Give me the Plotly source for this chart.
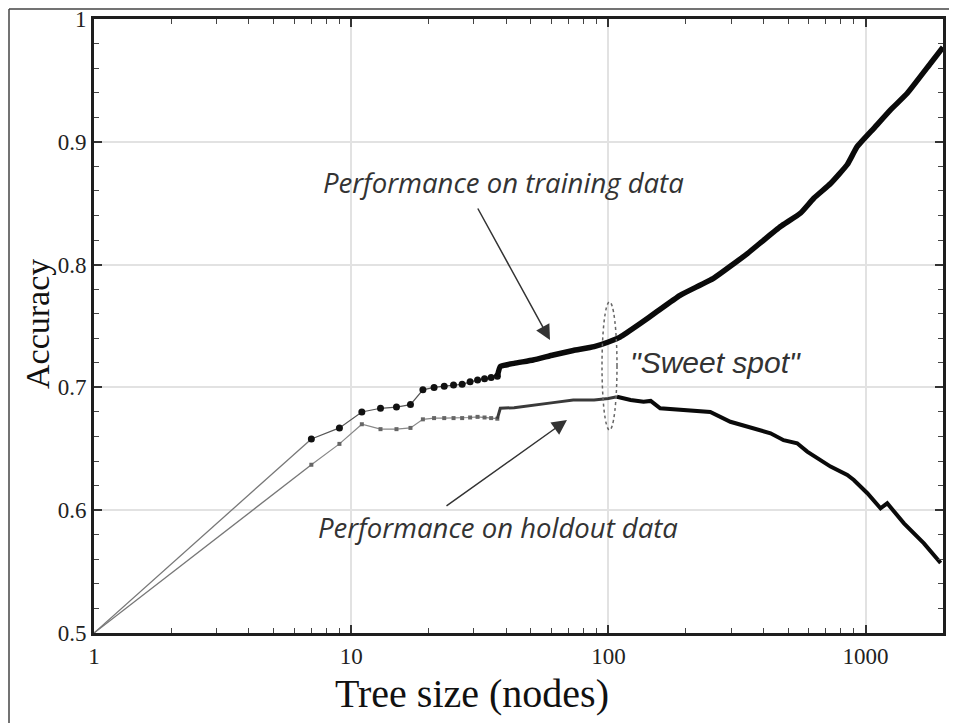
import plotly.graph_objects as go

# ---- data ----
train_small_x = [1, 7, 9, 11, 13, 15, 17, 19, 21, 23, 25, 27, 29, 31, 33, 35, 37]
train_small_y = [0.5, 0.658, 0.667, 0.680, 0.683, 0.684, 0.686, 0.698, 0.700, 0.701,
                 0.702, 0.7025, 0.7045, 0.706, 0.707, 0.708, 0.709]
train_big_x = [38, 43, 51, 61, 73, 88, 100, 111, 133, 155, 190, 257, 347, 402, 467,
               559, 629, 731, 849, 927, 1077, 1250, 1452, 1790, 2000]
train_big_y = [0.717, 0.7196, 0.7223, 0.7264, 0.730, 0.7332, 0.737, 0.741, 0.752, 0.762,
               0.775, 0.789, 0.809, 0.820, 0.831, 0.842, 0.854, 0.866, 0.8815, 0.896,
               0.911, 0.926, 0.9395, 0.964, 0.977]

hold_small_x = [1, 7, 9, 11, 13, 15, 17, 19, 21, 23, 25, 27, 29, 31, 33, 35, 37]
hold_small_y = [0.5, 0.637, 0.654, 0.670, 0.666, 0.666, 0.667, 0.674, 0.675, 0.675,
                0.675, 0.675, 0.6755, 0.676, 0.6755, 0.675, 0.6745]
hold_mid_x = [38, 43, 51, 61, 73, 88, 100, 108]
hold_mid_y = [0.683, 0.6835, 0.6857, 0.6876, 0.6897, 0.6897, 0.691, 0.6924]
hold_big_x = [108, 122, 137, 146, 159, 190, 249, 298, 427, 480, 542, 593, 731, 849,
              900, 1016, 1077, 1143, 1214, 1410, 1686, 1958]
hold_big_y = [0.6924, 0.6897, 0.6884, 0.689, 0.683, 0.6816, 0.680, 0.672, 0.6626,
              0.657, 0.6545, 0.6477, 0.6355, 0.6287, 0.6246, 0.6138, 0.608, 0.6016,
              0.6056, 0.5893, 0.573, 0.557]

x_tickvals = [1, 10, 100, 1000]
x_ticktext = ["1", "10", "100", "1000"]
y_tickvals = [0.5, 0.6, 0.7, 0.8, 0.9, 1.0]
y_ticktext = ["0.5", "0.6", "0.7", "0.8", "0.9", "1"]

fig = go.Figure()

# training
fig.add_trace(go.Scatter(x=train_small_x[:2], y=train_small_y[:2], mode="lines",
                         line=dict(color="#777", width=1.3), hoverinfo="skip"))
fig.add_trace(go.Scatter(x=train_small_x[1:], y=train_small_y[1:], mode="lines+markers",
                         line=dict(color="#555", width=1.2),
                         marker=dict(color="#111", size=7, symbol="circle")))
fig.add_trace(go.Scatter(x=[train_small_x[-1]] + train_big_x, y=[train_small_y[-1]] + train_big_y,
                         mode="lines", line=dict(color="#0a0a0a", width=5.5, shape="spline",
                                                 smoothing=0.4)))

# holdout
fig.add_trace(go.Scatter(x=hold_small_x[:2], y=hold_small_y[:2], mode="lines",
                         line=dict(color="#777", width=1.3), hoverinfo="skip"))
fig.add_trace(go.Scatter(x=hold_small_x[1:], y=hold_small_y[1:], mode="lines+markers",
                         line=dict(color="#888", width=1.2),
                         marker=dict(color="#666", size=4, symbol="square")))
fig.add_trace(go.Scatter(x=[hold_small_x[-1]] + hold_mid_x, y=[hold_small_y[-1]] + hold_mid_y,
                         mode="lines", line=dict(color="#3a3a3a", width=3)))
fig.add_trace(go.Scatter(x=hold_big_x, y=hold_big_y,
                         mode="lines", line=dict(color="#0a0a0a", width=4)))

OFF = 8  # default body margin of the html page
W, H = 957 - 2 * OFF, 723 - OFF
L, T = 94 - OFF, 19 - OFF
R = W - L - 849
B = H - T - 614
pw, ph = W - L - R, H - T - B


def px(page_x):
    return (page_x - OFF - L) / pw


def py(page_y):
    return (H - B - (page_y - OFF)) / ph


serif = "Liberation Serif"
axis_common = dict(showline=True, linewidth=3, linecolor="#1e1e1e", mirror="allticks",
                   ticks="inside", ticklen=8, tickwidth=1.5, tickcolor="#333",
                   showgrid=True, gridcolor="#e2e2e2", gridwidth=1.5, zeroline=False,
                   ticklabeloverflow="allow", automargin=False,
                   tickfont=dict(family=serif, size=23, color="#222"))

fig.update_xaxes(type="log", range=[0, 3.301], tickmode="array", tickvals=x_tickvals,
                 ticktext=x_ticktext,
                 minor=dict(ticks="inside", ticklen=5, tickwidth=1, tickcolor="#444",
                            dtick="D1", showgrid=False),
                 **axis_common)
fig.update_yaxes(range=[0.5, 1.0], tickmode="array", tickvals=y_tickvals, ticktext=y_ticktext,
                 minor=dict(ticks="inside", ticklen=5, tickwidth=1, tickcolor="#444",
                            dtick=0.02, showgrid=False),
                 **axis_common)

ann_font = dict(family="Open Sans", size=27.5, color="#333")
fig.update_layout(
    width=W, height=H, margin=dict(l=L, r=R, t=T, b=B, autoexpand=False),
    plot_bgcolor="white", paper_bgcolor="white", showlegend=False,
    annotations=[
        dict(xref="paper", yref="paper", x=px(472), y=py(669), showarrow=False,
             xanchor="center", yanchor="top", text="Tree size (nodes)",
             font=dict(family=serif, size=40, color="#111")),
        dict(xref="paper", yref="paper", x=px(37), y=py(324), showarrow=False,
             xanchor="center", yanchor="middle", text="Accuracy", textangle=-90,
             font=dict(family=serif, size=34, color="#111")),
        dict(xref="paper", yref="paper", x=px(503), y=py(182), showarrow=False,
             xanchor="center", yanchor="middle",
             text="<i>Performance on training data</i>", font=ann_font),
        dict(xref="paper", yref="paper", x=px(498), y=py(527), showarrow=False,
             xanchor="center", yanchor="middle",
             text="<i>Performance on holdout data</i>", font=ann_font),
        dict(xref="paper", yref="paper", x=px(715), y=py(362), showarrow=False,
             xanchor="center", yanchor="middle",
             text="<i>\"Sweet spot\"</i>",
             font=dict(family="Liberation Sans", size=30, color="#333")),
        dict(xref="paper", yref="paper", x=px(550), y=py(340), text="", showarrow=True,
             ax=477 - 550, ay=207 - 340, arrowhead=2, arrowsize=2, arrowwidth=1.5,
             arrowcolor="#333"),
        dict(xref="paper", yref="paper", x=px(567), y=py(420), text="", showarrow=True,
             ax=445 - 567, ay=507 - 420, arrowhead=2, arrowsize=2, arrowwidth=1.5,
             arrowcolor="#333"),
    ],
    shapes=[
        dict(type="circle", xref="paper", yref="paper", x0=px(602), x1=px(617),
             y0=py(430), y1=py(302), line=dict(color="#666", width=1.5, dash="dot")),
        dict(type="line", xref="paper", yref="paper", x0=px(9), x1=px(9), y0=py(9), y1=py(760),
             line=dict(color="#444", width=1.5)),
        dict(type="line", xref="paper", yref="paper", x0=px(9), x1=px(990), y0=py(9), y1=py(9),
             line=dict(color="#444", width=1.5)),
    ],
)

fig.write_html("out.html")
